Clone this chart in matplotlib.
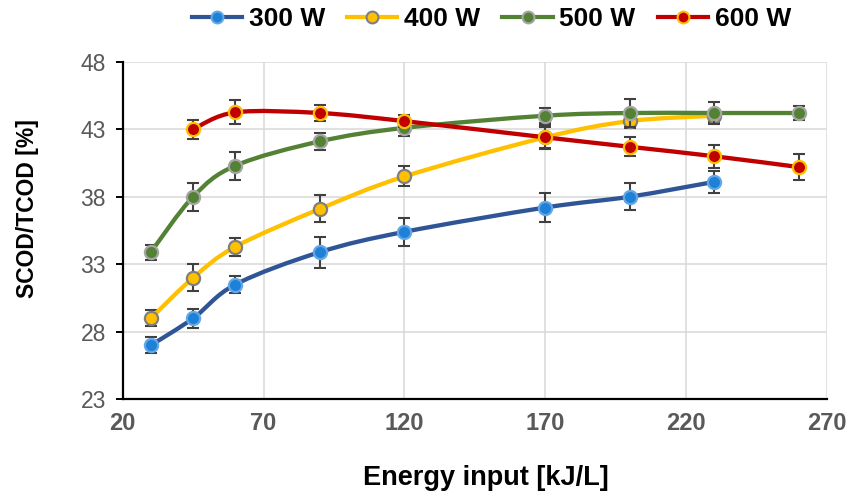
import numpy as np
import matplotlib
matplotlib.use("Agg")
import matplotlib.pyplot as plt
from matplotlib.path import Path
from matplotlib.patches import PathPatch
from matplotlib.lines import Line2D

plt.rcParams['font.family'] = ['Liberation Sans', 'DejaVu Sans']

# ---- data ----
x_300 = [30, 45, 60, 90, 120, 170, 200, 230]
y_300 = [27.0, 29.0, 31.5, 33.9, 35.4, 37.2, 38.0, 39.1]
e_300 = [0.6, 0.7, 0.65, 1.15, 1.05, 1.1, 1.0, 0.83]

x_400 = [30, 45, 60, 90, 120, 170, 200, 230]
y_400 = [29.0, 32.0, 34.3, 37.1, 39.5, 42.4, 43.6, 44.0]
e_400 = [0.6, 1.0, 0.68, 1.0, 0.74, 0.9, 0.5, 0.45]

x_500 = [30, 45, 60, 90, 120, 170, 200, 230, 260]
y_500 = [33.9, 38.0, 40.3, 42.1, 43.1, 44.0, 44.2, 44.2, 44.2]
e_500 = [0.55, 1.05, 1.05, 0.62, 0.6, 0.55, 1.05, 0.78, 0.52]

x_600 = [45, 60, 90, 120, 170, 200, 230, 260]
y_600 = [43.0, 44.25, 44.2, 43.6, 42.4, 41.7, 41.0, 40.2]
e_600 = [0.7, 0.9, 0.62, 0.45, 0.8, 0.72, 0.84, 0.93]

labels = ["300 W", "400 W", "500 W", "600 W"]
x_ticks = [20, 70, 120, 170, 220, 270]
y_ticks = [23, 28, 33, 38, 43, 48]

series = [
    (x_300, y_300, e_300, '#2F5597', '#1F80D8', '#62A8E6'),
    (x_400, y_400, e_400, '#FFC000', '#FFC000', '#7F7F7F'),
    (x_500, y_500, e_500, '#548235', '#548235', '#A5A5A5'),
    (x_600, y_600, e_600, '#C00000', '#C00000', '#FFC000'),
]


def smooth_path(xs, ys):
    """Excel-like smoothed line: cubic Bezier segments (Catmull-Rom)."""
    p = np.column_stack([xs, ys]).astype(float)
    n = len(p)
    verts = [p[0]]
    codes = [Path.MOVETO]
    for i in range(n - 1):
        p0 = p[i - 1] if i > 0 else p[i]
        p1 = p[i]
        p2 = p[i + 1]
        p3 = p[i + 2] if i + 2 < n else p[i + 1]
        c1 = p1 + (p2 - p0) / 6.0
        c2 = p2 - (p3 - p1) / 6.0
        verts += [c1, c2, p2]
        codes += [Path.CURVE4] * 3
    return Path(verts, codes)


fig = plt.figure(figsize=(8.47, 5.0), dpi=100)
ax = fig.add_axes([0.1449, 0.2014, 0.8312, 0.6752])

ax.set_xlim(20, 270)
ax.set_ylim(23, 48)
ax.set_xticks(x_ticks)
ax.set_yticks(y_ticks)
ax.grid(True, color='#D9D9D9', linewidth=1.1, zorder=0)
ax.set_axisbelow(True)

for s in ['top', 'right']:
    ax.spines[s].set_visible(False)
ax.spines['left'].set_linewidth(1.6)
ax.spines['bottom'].set_linewidth(1.6)
ax.spines['left'].set_color('black')
ax.spines['bottom'].set_color('black')

ax.tick_params(axis='x', length=0, pad=9, labelsize=17, labelcolor='#595959')
ax.tick_params(axis='y', length=5, width=1.4, direction='out', pad=7,
               labelsize=16.5, labelcolor='#595959')
for lab in ax.get_xticklabels():
    lab.set_fontweight('bold')

handles = []
for k, (xs, ys, es, lc, mfc, mec) in enumerate(series):
    z = 3 + k * 3
    ax.errorbar(xs, ys, yerr=es, fmt='none', ecolor='#404040', elinewidth=1.5,
                capsize=4, capthick=1.5, zorder=z)
    patch = PathPatch(smooth_path(xs, ys), facecolor='none', edgecolor=lc,
                      linewidth=3.1, capstyle='round', joinstyle='round', zorder=z + 1)
    ax.add_patch(patch)
    ax.plot(xs, ys, linestyle='none', marker='o', markersize=9.5,
            markerfacecolor=mfc, markeredgecolor=mec, markeredgewidth=1.6, zorder=z + 2)
    handles.append(Line2D([0], [0], color=lc, linewidth=3.0, marker='o', markersize=8.5,
                          markerfacecolor=mfc, markeredgecolor=mec, markeredgewidth=1.5))

fig.legend(handles, labels, loc='center', bbox_to_anchor=(0.580, 0.962), ncol=4,
           frameon=False, numpoints=1, handlelength=1.9, handletextpad=0.25,
           columnspacing=0.85, prop={'weight': 'bold', 'size': 19})

fig.text(0.032, 0.582, 'SCOD/TCOD [%]', rotation=90, ha='center', va='center',
         fontsize=16.5, fontweight='bold', color='black')
fig.text(0.574, 0.044, 'Energy input [kJ/L]', ha='center', va='center',
         fontsize=19.5, fontweight='bold', color='black')

fig.savefig('out.png', dpi=100)
